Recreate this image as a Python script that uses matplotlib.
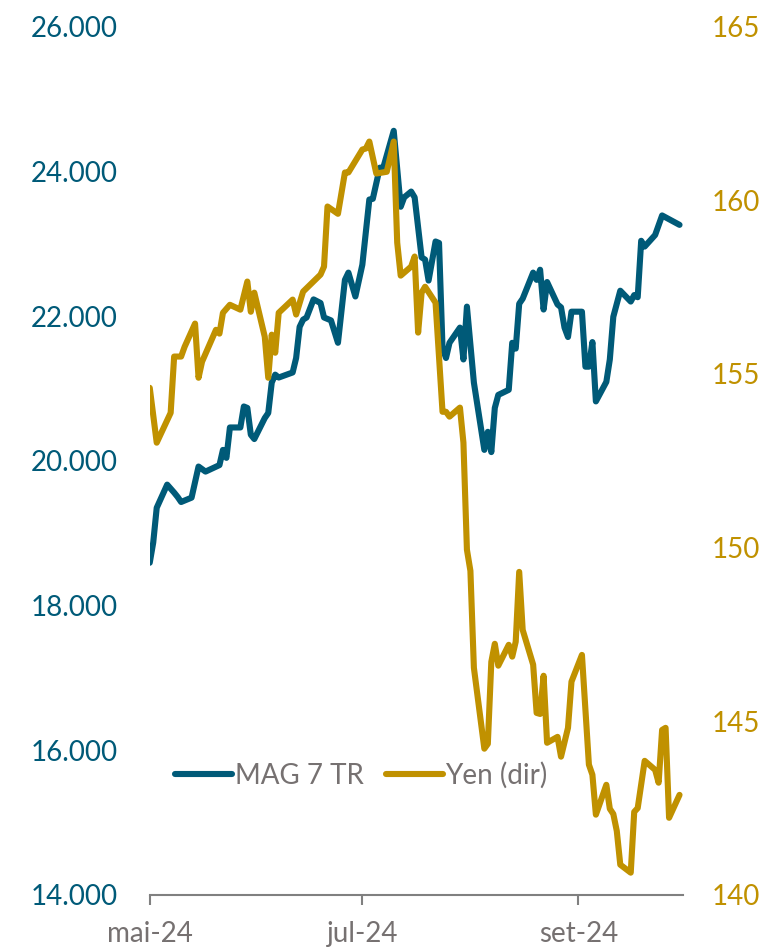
import matplotlib
matplotlib.use("Agg")
import matplotlib.pyplot as plt
import matplotlib.ticker as mticker
import pandas as pd

# MAG 7 TR index (left axis)
mag7_dates = [
    "2024-05-01", "2024-05-02", "2024-05-03", "2024-05-06", "2024-05-08", "2024-05-09",
    "2024-05-10", "2024-05-13", "2024-05-15", "2024-05-17", "2024-05-21", "2024-05-22",
    "2024-05-23", "2024-05-24", "2024-05-27", "2024-05-28", "2024-05-29", "2024-05-30",
    "2024-05-31", "2024-06-03", "2024-06-04", "2024-06-05", "2024-06-06", "2024-06-07",
    "2024-06-11", "2024-06-12", "2024-06-13", "2024-06-14", "2024-06-15", "2024-06-17",
    "2024-06-19", "2024-06-20", "2024-06-22", "2024-06-24", "2024-06-26", "2024-06-27",
    "2024-06-29", "2024-07-01", "2024-07-03", "2024-07-04", "2024-07-06", "2024-07-07",
    "2024-07-10", "2024-07-12", "2024-07-13", "2024-07-15", "2024-07-16", "2024-07-18",
    "2024-07-19", "2024-07-20", "2024-07-22", "2024-07-23", "2024-07-24", "2024-07-25",
    "2024-07-26", "2024-07-29", "2024-07-30", "2024-07-31", "2024-08-02", "2024-08-05",
    "2024-08-06", "2024-08-07", "2024-08-08", "2024-08-09", "2024-08-12", "2024-08-13",
    "2024-08-14", "2024-08-15", "2024-08-16", "2024-08-19", "2024-08-20", "2024-08-21",
    "2024-08-22", "2024-08-23", "2024-08-26", "2024-08-27", "2024-08-28", "2024-08-29",
    "2024-08-30", "2024-09-02", "2024-09-03", "2024-09-04", "2024-09-05", "2024-09-06",
    "2024-09-09", "2024-09-10", "2024-09-11", "2024-09-13", "2024-09-16", "2024-09-17",
    "2024-09-18", "2024-09-19", "2024-09-20", "2024-09-23", "2024-09-25", "2024-09-30",
]
mag7_values = [
    18590, 18870, 19350, 19670, 19560, 19500,
    19430, 19490, 19920, 19850, 19940, 20150,
    20040, 20460, 20460, 20750, 20730, 20360,
    20300, 20590, 20660, 21080, 21190, 21150,
    21220, 21420, 21850, 21950, 21980, 22230,
    22180, 21980, 21940, 21630, 22500, 22600,
    22270, 22710, 23610, 23620, 24050, 24050,
    24560, 23510, 23640, 23720, 23640, 22810,
    22780, 22490, 23030, 23010, 21560, 21420,
    21630, 21840, 21400, 22130, 21080, 20150,
    20400, 20120, 20730, 20910, 20980, 21630,
    21550, 22170, 22240, 22600, 22500, 22640,
    22090, 22470, 22160, 22120, 21840, 21710,
    22060, 22060, 21300, 21300, 21640, 20820,
    21090, 21400, 21990, 22350, 22200, 22290,
    22260, 23040, 22960, 23120, 23390, 23260,
]

# USD/JPY (right axis)
yen_dates = [
    "2024-05-01", "2024-05-03", "2024-05-07", "2024-05-08", "2024-05-10", "2024-05-11",
    "2024-05-14", "2024-05-15", "2024-05-16", "2024-05-20", "2024-05-21", "2024-05-22",
    "2024-05-24", "2024-05-27", "2024-05-29", "2024-05-30", "2024-05-31", "2024-06-03",
    "2024-06-04", "2024-06-05", "2024-06-06", "2024-06-07", "2024-06-11", "2024-06-12",
    "2024-06-14", "2024-06-19", "2024-06-20", "2024-06-21", "2024-06-24", "2024-06-26",
    "2024-06-27", "2024-07-01", "2024-07-02", "2024-07-03", "2024-07-05", "2024-07-08",
    "2024-07-10", "2024-07-11", "2024-07-12", "2024-07-15", "2024-07-16", "2024-07-17",
    "2024-07-18", "2024-07-19", "2024-07-22", "2024-07-24", "2024-07-25", "2024-07-26",
    "2024-07-29", "2024-07-30", "2024-07-31", "2024-08-01", "2024-08-02", "2024-08-05",
    "2024-08-06", "2024-08-07", "2024-08-08", "2024-08-09", "2024-08-12", "2024-08-13",
    "2024-08-14", "2024-08-15", "2024-08-16", "2024-08-19", "2024-08-20", "2024-08-21",
    "2024-08-22", "2024-08-23", "2024-08-26", "2024-08-27", "2024-08-29", "2024-08-30",
    "2024-09-02", "2024-09-04", "2024-09-05", "2024-09-06", "2024-09-09", "2024-09-10",
    "2024-09-11", "2024-09-12", "2024-09-13", "2024-09-16", "2024-09-17", "2024-09-18",
    "2024-09-20", "2024-09-23", "2024-09-24", "2024-09-25", "2024-09-26", "2024-09-27",
    "2024-09-30",
]
yen_values = [
    154.60, 153.02, 153.88, 155.50, 155.50, 155.78,
    156.45, 154.89, 155.35, 156.27, 156.16, 156.76,
    156.99, 156.85, 157.66, 156.79, 157.34, 156.07,
    154.89, 156.13, 155.61, 156.76, 157.14, 156.71,
    157.37, 157.86, 158.09, 159.82, 159.61, 160.80,
    160.80, 161.46, 161.49, 161.69, 160.77, 160.82,
    161.69, 158.78, 157.83, 158.09, 158.38, 156.19,
    157.34, 157.51, 157.05, 153.91, 153.91, 153.77,
    154.03, 153.02, 149.94, 149.33, 146.54, 144.21,
    144.35, 146.71, 147.23, 146.60, 147.20, 146.86,
    147.29, 149.30, 147.63, 146.63, 145.24, 145.21,
    146.31, 144.38, 144.55, 143.98, 144.81, 146.14,
    146.91, 143.75, 143.46, 142.31, 143.17, 142.48,
    142.33, 141.84, 140.87, 140.64, 142.39, 142.50,
    143.86, 143.60, 143.23, 144.75, 144.81, 142.22,
    142.88,
]

blue = "#005a78"
gold = "#c09100"
grey = "#767171"

plt.rcParams["font.family"] = ["Lato", "DejaVu Sans"]

fig = plt.figure(figsize=(7.64, 9.5), dpi=100)
ax = fig.add_axes([0.196, 0.058, 0.698, 0.914])
ax2 = ax.twinx()

l1, = ax.plot(pd.to_datetime(mag7_dates), mag7_values, color=blue, lw=4.4,
              solid_joinstyle="round", solid_capstyle="round", label="MAG 7 TR")
l2, = ax2.plot(pd.to_datetime(yen_dates), yen_values, color=gold, lw=4.4,
               solid_joinstyle="round", solid_capstyle="round", label="Yen (dir)")

ax.set_ylim(14000, 26000)
ax.set_yticks(range(14000, 26001, 2000))
ax.yaxis.set_major_formatter(mticker.FuncFormatter(lambda v, p: f"{int(v):,}".replace(",", ".")))
ax2.set_ylim(140, 165)
ax2.set_yticks(range(140, 166, 5))

ax.set_xlim(pd.Timestamp("2024-05-01"), pd.Timestamp("2024-10-01"))
ticks = pd.to_datetime(["2024-05-01", "2024-07-01", "2024-09-01"])
ax.set_xticks(ticks)
ax.set_xticklabels(["mai-24", "jul-24", "set-24"])

for a in (ax, ax2):
    for s in ("top", "left", "right"):
        a.spines[s].set_visible(False)
ax2.spines["bottom"].set_visible(False)
ax.spines["bottom"].set_color("#808080")
ax.spines["bottom"].set_linewidth(1.5)

ax.tick_params(axis="x", length=7, width=1.5, color="#808080", labelsize=20,
               labelcolor=grey, pad=12)
ax.tick_params(axis="y", length=0, labelsize=20, labelcolor=blue, pad=23)
ax2.tick_params(axis="y", length=0, labelsize=20, labelcolor=gold, pad=21)

fig.legend(handles=[l1, l2], loc="center left", bbox_to_anchor=(0.229, 0.184),
           frameon=False, ncol=2, fontsize=20, handlelength=2.05, handletextpad=0.1,
           columnspacing=0.8, labelcolor=grey, borderaxespad=0, borderpad=0)

fig.savefig("out.png", dpi=100)
